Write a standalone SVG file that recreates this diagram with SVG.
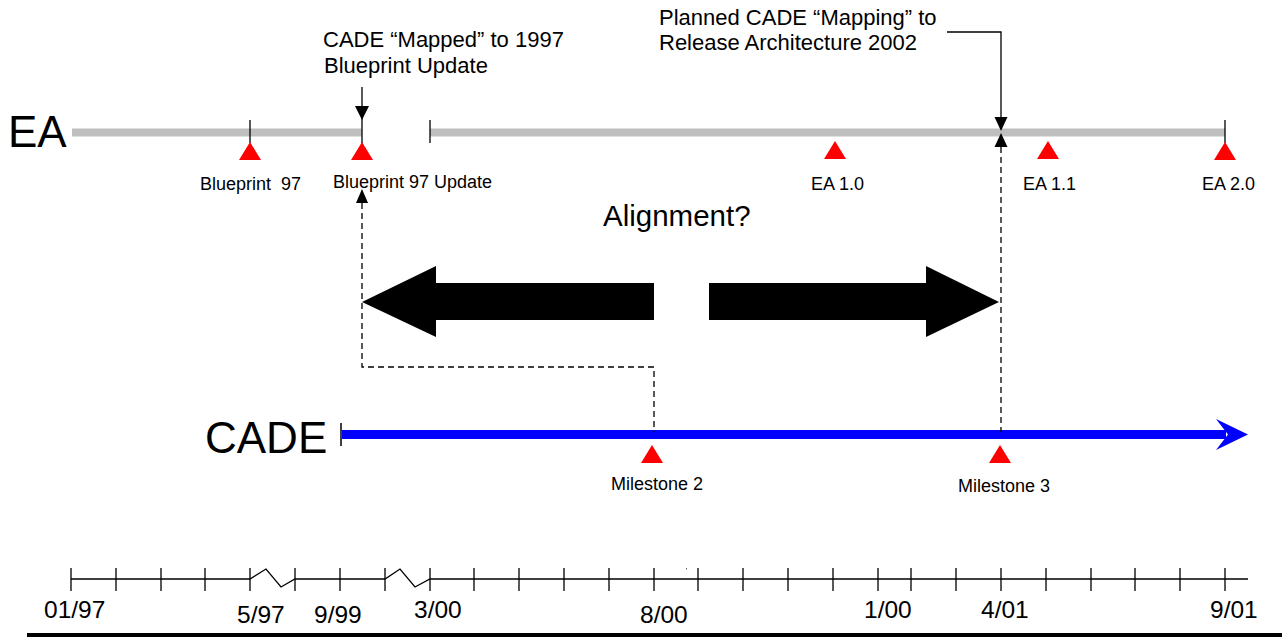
<svg xmlns="http://www.w3.org/2000/svg" width="1285" height="637" viewBox="0 0 1285 637">
<defs>
<style>
text { font-family: "Liberation Sans", Arial, Helvetica, sans-serif; fill: #000; }
.big { font-size: 44px; }
.note { font-size: 22px; }
.q { font-size: 29.5px; }
.lbl { font-size: 18px; }
.date { font-size: 24.5px; }
.tri { fill: #ff0000; }
.ln { stroke: #000; stroke-width: 1.3; fill: none; }
.dash { stroke: #000; stroke-width: 1.3; fill: none; stroke-dasharray: 6 4; }
.ah { fill: #000; }
.ea { stroke: #bfbfbf; stroke-width: 8; fill: none; }
.cade { stroke: #0000ff; stroke-width: 9; fill: none; }
.fat { fill: #000; }
</style>
<polygon id="tri" points="0,0 11,18 -11,18"/>
</defs>

<g id="ea-title"><text class="big" x="8" y="147">EA</text></g>
<g id="cade-title"><text class="big" x="205" y="453">CADE</text></g>

<g id="ea-timeline">
<line class="ea" x1="72" y1="132.5" x2="362" y2="132.5"/>
<line class="ea" x1="430" y1="132.5" x2="1225" y2="132.5"/>
<line class="ln" x1="250" y1="120" x2="250" y2="143"/>
<line class="ln" x1="430" y1="120" x2="430" y2="143"/>
<line class="ln" x1="1225" y1="120" x2="1225" y2="143"/>
</g>

<g id="cade-timeline">
<line class="cade" x1="342" y1="434.5" x2="1226" y2="434.5"/>
<polygon points="1216,419 1248,434.5 1216,450 1228,434.5" fill="#0000ff"/>
<line stroke="#000" stroke-width="1.5" x1="341" y1="423" x2="341" y2="446"/>
</g>

<g id="blueprint97">
<use href="#tri" class="tri" x="250" y="142"/>
<text class="lbl" x="200" y="190" xml:space="preserve">Blueprint  97</text>
</g>
<g id="blueprint97-update">
<use href="#tri" class="tri" x="362" y="142"/>
<text class="lbl" x="333" y="188">Blueprint 97 Update</text>
</g>
<g id="ea10">
<use href="#tri" class="tri" x="835" y="141"/>
<text class="lbl" x="811" y="190">EA 1.0</text>
</g>
<g id="ea11">
<use href="#tri" class="tri" x="1048" y="141"/>
<text class="lbl" x="1023" y="190">EA 1.1</text>
</g>
<g id="ea20">
<use href="#tri" class="tri" x="1225" y="142"/>
<text class="lbl" x="1202" y="190">EA 2.0</text>
</g>
<g id="milestone2">
<use href="#tri" class="tri" x="652" y="445"/>
<text class="lbl" x="611" y="490">Milestone 2</text>
</g>
<g id="milestone3">
<use href="#tri" class="tri" x="1000" y="445"/>
<text class="lbl" x="958" y="492">Milestone 3</text>
</g>

<g id="note-mapped">
<text class="note" x="323" y="47">CADE “Mapped” to 1997</text>
<text class="note" x="324" y="73">Blueprint Update</text>
</g>
<g id="note-planned">
<text class="note" x="659" y="25">Planned CADE “Mapping” to</text>
<text class="note" x="659" y="50">Release Architecture 2002</text>
</g>
<g id="alignment">
<text class="q" x="603" y="226">Alignment?</text>
<polygon class="fat" points="362,302 436,266 436,283 654,283 654,320 436,320 436,337"/>
<polygon class="fat" points="999,302 926,266 926,283 709,283 709,320 926,320 926,337"/>
</g>

<g id="connectors">
<line class="ln" x1="362" y1="87" x2="362" y2="143"/>
<polygon class="ah" points="355,106 369,106 362,120"/>
<polyline class="ln" points="947,32 1001,32 1001,119"/>
<polygon class="ah" points="994.5,117 1007.5,117 1001,131"/>
<polygon class="ah" points="994.5,147 1007.5,147 1001,133"/>
<line class="dash" x1="1001" y1="147" x2="1001" y2="432"/>
<polygon class="ah" points="356,203 368,203 362,189"/>
<polyline class="dash" points="362,203 362,367 654,367 654,432"/>
</g>

<g id="date-axis">
<polyline class="ln" points="71,579 250,579 266,569 281,587 295,579 385,579 400,569 415,587 430,579 1248,579"/>
<path class="ln" d="M71,568V591 M116,568V591 M161,568V591 M205,568V591 M250,568V591 M295,568V591 M340,568V591 M385,568V591 M430,568V591 M474,568V591 M519,568V591 M564,568V591 M609,568V591 M654,568V591 M698,568V591 M743,568V591 M788,568V591 M833,568V591 M878,568V591 M911,568V591 M956,568V591 M1001,568V591 M1046,568V591 M1091,568V591 M1135,568V591 M1180,568V591 M1225,568V591"/>
<rect x="686" y="568" width="1" height="1.5" fill="#666"/>
<text class="date" x="44" y="618">01/97</text>
<text class="date" x="237" y="623">5/97</text>
<text class="date" x="314" y="623">9/99</text>
<text class="date" x="414" y="618">3/00</text>
<text class="date" x="640" y="623">8/00</text>
<text class="date" x="864" y="618">1/00</text>
<text class="date" x="981" y="618">4/01</text>
<text class="date" x="1210" y="618">9/01</text>
<rect x="27" y="633" width="1255" height="4" fill="#000"/>
</g>
</svg>
